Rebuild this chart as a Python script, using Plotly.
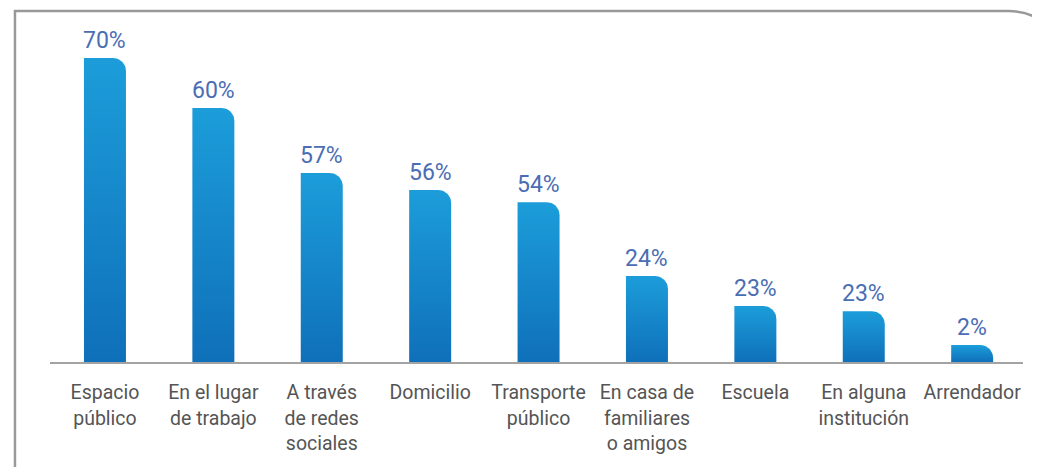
import numpy as np
import plotly.graph_objects as go

# Datos
categorias = ["Espacio<br>público", "En el lugar<br>de trabajo", "A través<br>de redes<br>sociales",
              "Domicilio", "Transporte<br>público", "En casa de<br>familiares<br>o amigos",
              "Escuela", "En alguna<br>institución", "Arrendador"]
porcentajes = [70, 60, 57, 56, 54, 24, 23, 23, 2]
# altura dibujada de cada barra (la gráfica original no es proporcional)
alturas = [70, 58.5, 43.5, 39.6, 36.8, 19.8, 12.9, 11.7, 3.9]

# geometría en píxeles -> unidades de datos
px_x = 108.4          # px por categoría
px_y = 4.343          # px por unidad de altura
medio_ancho = 21 / px_x
radio_x, radio_y = 13 / px_x, 13 / px_y
ang = np.linspace(0, np.pi / 2, 12)

fig = go.Figure()
for i, h in enumerate(alturas):
    izq, der = i - medio_ancho, i + medio_ancho
    xs = [izq, izq] + list(der - radio_x + radio_x * np.sin(ang)) + [der, izq]
    ys = [0, h] + list(h - radio_y + radio_y * np.cos(ang)) + [0, 0]
    fig.add_trace(go.Scatter(
        x=xs, y=ys, mode="lines", fill="toself", line=dict(width=0),
        fillgradient=dict(type="vertical", start=0, stop=h,
                          colorscale=[[0, "#0f70b9"], [1, "#1c9dda"]]),
        hoverinfo="skip", showlegend=False))
    fig.add_annotation(x=i, y=h, text=f"{porcentajes[i]}%", showarrow=False,
                       yanchor="bottom", yshift=2,
                       font=dict(family="Roboto", size=23, color="#4a6db3"))

# marco gris con esquina redondeada
fig.add_shape(type="path", xref="paper", yref="paper",
              path="M -0.036,-0.33 L -0.036,1.026 L 0.985,1.026 Q 1.016,1.026 1.03,0.96",
              line=dict(color="#999999", width=2.5))

# la página añade 8 px de margen al cuerpo: se compensa en los márgenes
fig.update_layout(
    width=1040, height=467,
    margin=dict(l=42, r=25, t=12, b=113),
    plot_bgcolor="white", paper_bgcolor="white",
    xaxis=dict(range=[-0.507, 8.469], tickvals=list(range(len(categorias))),
               ticktext=categorias, showgrid=False, zeroline=False,
               showline=True, linecolor="#a3a3a3", linewidth=2,
               ticks="", ticklabelstandoff=12,
               tickfont=dict(family="Roboto", size=19.5, color="#555555")),
    yaxis=dict(range=[0, 78.75], visible=False, fixedrange=True),
)
fig.write_html("out.html")
